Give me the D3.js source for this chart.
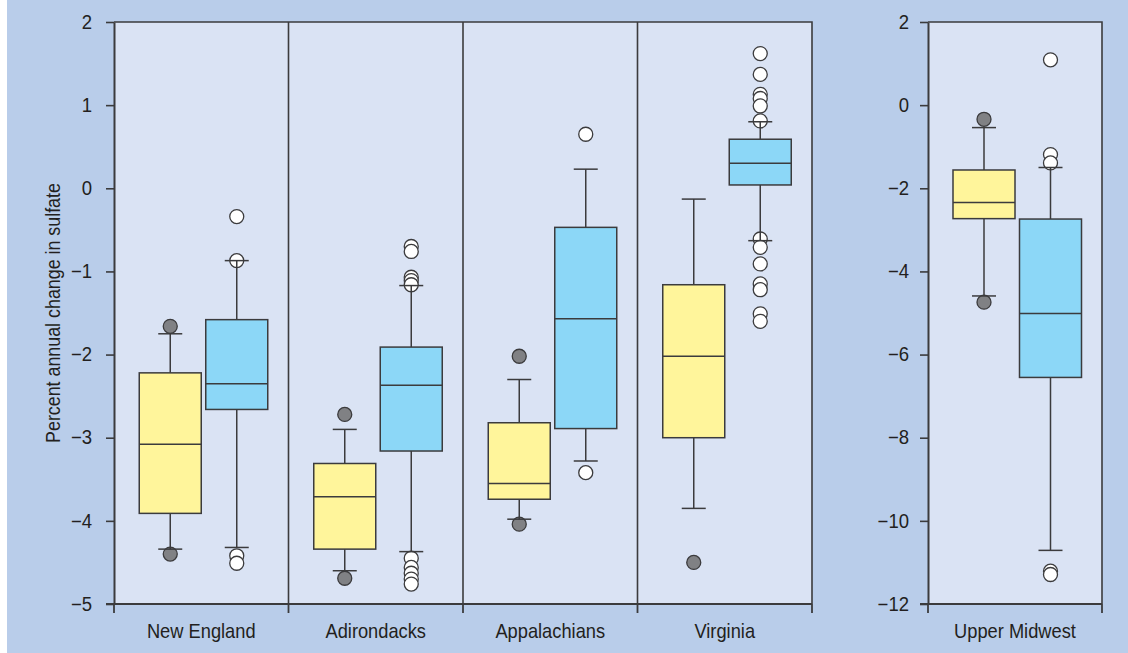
<!DOCTYPE html>
<html>
<head>
<meta charset="utf-8">
<script src="https://cdn.jsdelivr.net/npm/d3@7"></script>
<style>
  html, body { margin: 0; padding: 0; background: #ffffff; }
  svg { display: block; }
  text { font-family: "Liberation Sans", Arial, sans-serif; fill: #231f20; }
</style>
</head>
<body>
<svg id="chart" width="1128" height="653"></svg>
<script>
// ---------------- data ----------------
const leftRegions = ["New England", "Adirondacks", "Appalachians", "Virginia"];
const rightRegions = ["Upper Midwest"];
const seriesNames = ["earlier", "later"];

// five-number summaries: [lower whisker, Q1, median, Q3, upper whisker]
const earlierStats = {
  "New England":   [-4.34, -3.91, -3.08, -2.22, -1.75],
  "Adirondacks":   [-4.60, -4.34, -3.71, -3.31, -2.90],
  "Appalachians":  [-3.98, -3.74, -3.55, -2.82, -2.30],
  "Virginia":      [-3.85, -3.00, -2.02, -1.16, -0.13],
  "Upper Midwest": [-4.59, -2.73, -2.34, -1.56, -0.54]
};
const laterStats = {
  "New England":   [-4.32, -2.66, -2.35, -1.58, -0.87],
  "Adirondacks":   [-4.37, -3.16, -2.37, -1.91, -1.17],
  "Appalachians":  [-3.28, -2.89, -1.57, -0.47, 0.23],
  "Virginia":      [-0.63, 0.04, 0.30, 0.59, 0.80],
  "Upper Midwest": [-10.71, -6.55, -5.01, -2.74, -1.50]
};
const earlierOutliers = {
  "New England":   [-1.66, -4.40],
  "Adirondacks":   [-2.72, -4.69],
  "Appalachians":  [-2.02, -4.04],
  "Virginia":      [-4.50],
  "Upper Midwest": [-0.34, -4.74]
};
const laterOutliers = {
  "New England":   [-0.34, -0.87, -4.42, -4.51],
  "Adirondacks":   [-0.70, -0.76, -1.07, -1.11, -1.16, -4.45, -4.56, -4.63, -4.70, -4.76],
  "Appalachians":  [0.65, -3.42],
  "Virginia":      [1.62, 1.37, 1.13, 1.08, 0.99, 0.81, -0.61, -0.71, -0.91, -1.15, -1.22, -1.51, -1.60],
  "Upper Midwest": [1.09, -1.19, -1.39, -11.21, -11.29]
};
const leftTicks = [2, 1, 0, -1, -2, -3, -4, -5];
const rightTicks = [2, 0, -2, -4, -6, -8, -10, -12];
const yLabel = "Percent annual change in sulfate";

// ---------------- layout ----------------
const svg = d3.select("#chart");
const yTop = 22, yBottom = 604;
const LP = { x0: 114, x1: 812 };
const RP = { x0: 928, x1: 1102 };
const boxW = 62, capW = 24, rad = 7;
const seriesOffset = { earlier: -31, later: 35.5 };
const fills = { earlier: "#fff59b", later: "#8cd7f7" };
const outFill = { earlier: "#808184", later: "#ffffff" };
const ink = "#3b3b3d";
const narrow = 0.87;   // horizontal compression to mimic a condensed face

function condense(sel, k) {
  sel.each(function () {
    const w = this.getComputedTextLength();
    d3.select(this).attr("textLength", w * k).attr("lengthAdjust", "spacingAndGlyphs");
  });
}

svg.append("rect").attr("x", 7).attr("y", 0).attr("width", 1121).attr("height", 653).attr("fill", "#b9cdea");

const yL = d3.scaleLinear().domain([-5, 2]).range([yBottom, yTop]);
const yR = d3.scaleLinear().domain([-12, 2]).range([yBottom, yTop]);
const xL = d3.scaleBand().domain(leftRegions).range([LP.x0, LP.x1]).paddingInner(0).paddingOuter(0);
const xR = d3.scaleBand().domain(rightRegions).range([RP.x0, RP.x1]).paddingInner(0).paddingOuter(0);

const fmt = d => d < 0 ? "\u2212" + Math.abs(d) : String(d);

function panel(P, x, y, ticks, pad) {
  const g = svg.append("g");
  g.append("rect").attr("x", P.x0).attr("y", yTop).attr("width", P.x1 - P.x0).attr("height", yBottom - yTop)
    .attr("fill", "#dae3f4");
  g.append("path").attr("d", `M${P.x0},${yTop}H${P.x1}V${yBottom}`).attr("fill", "none")
    .attr("stroke", ink).attr("stroke-width", 1.6);
  const bounds = x.domain().map(d => x(d)).concat([P.x1]);
  g.selectAll("line.div").data(bounds.slice(1, -1)).join("line")
    .attr("x1", d => d).attr("x2", d => d).attr("y1", yTop).attr("y2", yBottom)
    .attr("stroke", ink).attr("stroke-width", 1.6);
  g.selectAll("line.bt").data(bounds).join("line")
    .attr("x1", d => d).attr("x2", d => d).attr("y1", yBottom).attr("y2", yBottom + 9)
    .attr("stroke", ink).attr("stroke-width", 1.8);
  const ax = g.append("g").attr("transform", `translate(${P.x0},0)`)
    .call(d3.axisLeft(y).tickValues(ticks).tickSize(8).tickSizeOuter(0).tickPadding(pad).tickFormat(fmt));
  ax.attr("font-family", null).attr("font-size", null);
  ax.select(".domain").attr("stroke", ink).attr("stroke-width", 2);
  ax.selectAll(".tick line").attr("stroke", ink).attr("stroke-width", 1.6);
  ax.selectAll(".tick text").attr("font-size", 19.5).attr("fill", "#231f20");
  condense(ax.selectAll(".tick text"), 0.95);
  g.append("line").attr("x1", P.x0 - 8).attr("x2", P.x1).attr("y1", yBottom).attr("y2", yBottom)
    .attr("stroke", ink).attr("stroke-width", 2);
  const cats = g.selectAll("text.cat").data(x.domain()).join("text")
    .attr("x", d => x(d) + x.bandwidth() / 2).attr("y", 638)
    .attr("text-anchor", "middle").attr("font-size", 21).text(d => d);
  condense(cats, narrow);

  x.domain().forEach(region => {
    seriesNames.forEach(s => {
      const st = (s === "earlier" ? earlierStats : laterStats)[region];
      const outs = (s === "earlier" ? earlierOutliers : laterOutliers)[region];
      const cx = x(region) + x.bandwidth() / 2 + seriesOffset[s];
      const bg = g.append("g");
      bg.selectAll("circle").data(outs).join("circle")
        .attr("cx", cx).attr("cy", d => y(d)).attr("r", rad)
        .attr("fill", outFill[s]).attr("stroke", ink).attr("stroke-width", 1.3);
      bg.append("line").attr("x1", cx).attr("x2", cx).attr("y1", y(st[0])).attr("y2", y(st[1]))
        .attr("stroke", ink).attr("stroke-width", 1.5);
      bg.append("line").attr("x1", cx).attr("x2", cx).attr("y1", y(st[3])).attr("y2", y(st[4]))
        .attr("stroke", ink).attr("stroke-width", 1.5);
      [st[0], st[4]].forEach(v => {
        bg.append("line").attr("x1", cx - capW / 2).attr("x2", cx + capW / 2).attr("y1", y(v)).attr("y2", y(v))
          .attr("stroke", ink).attr("stroke-width", 1.5);
      });
      bg.append("rect").attr("x", cx - boxW / 2).attr("y", y(st[3])).attr("width", boxW)
        .attr("height", y(st[1]) - y(st[3])).attr("fill", fills[s]).attr("stroke", ink).attr("stroke-width", 1.5);
      bg.append("line").attr("x1", cx - boxW / 2).attr("x2", cx + boxW / 2).attr("y1", y(st[2])).attr("y2", y(st[2]))
        .attr("stroke", ink).attr("stroke-width", 1.5);
    });
  });
}

panel(LP, xL, yL, leftTicks, 14);
panel(RP, xR, yR, rightTicks, 11);

const title = svg.append("text").attr("transform", `translate(60,${(yTop + yBottom) / 2}) rotate(-90)`)
  .attr("text-anchor", "middle").attr("font-size", 20.5).text(yLabel);
condense(title, narrow);
</script>
</body>
</html>
